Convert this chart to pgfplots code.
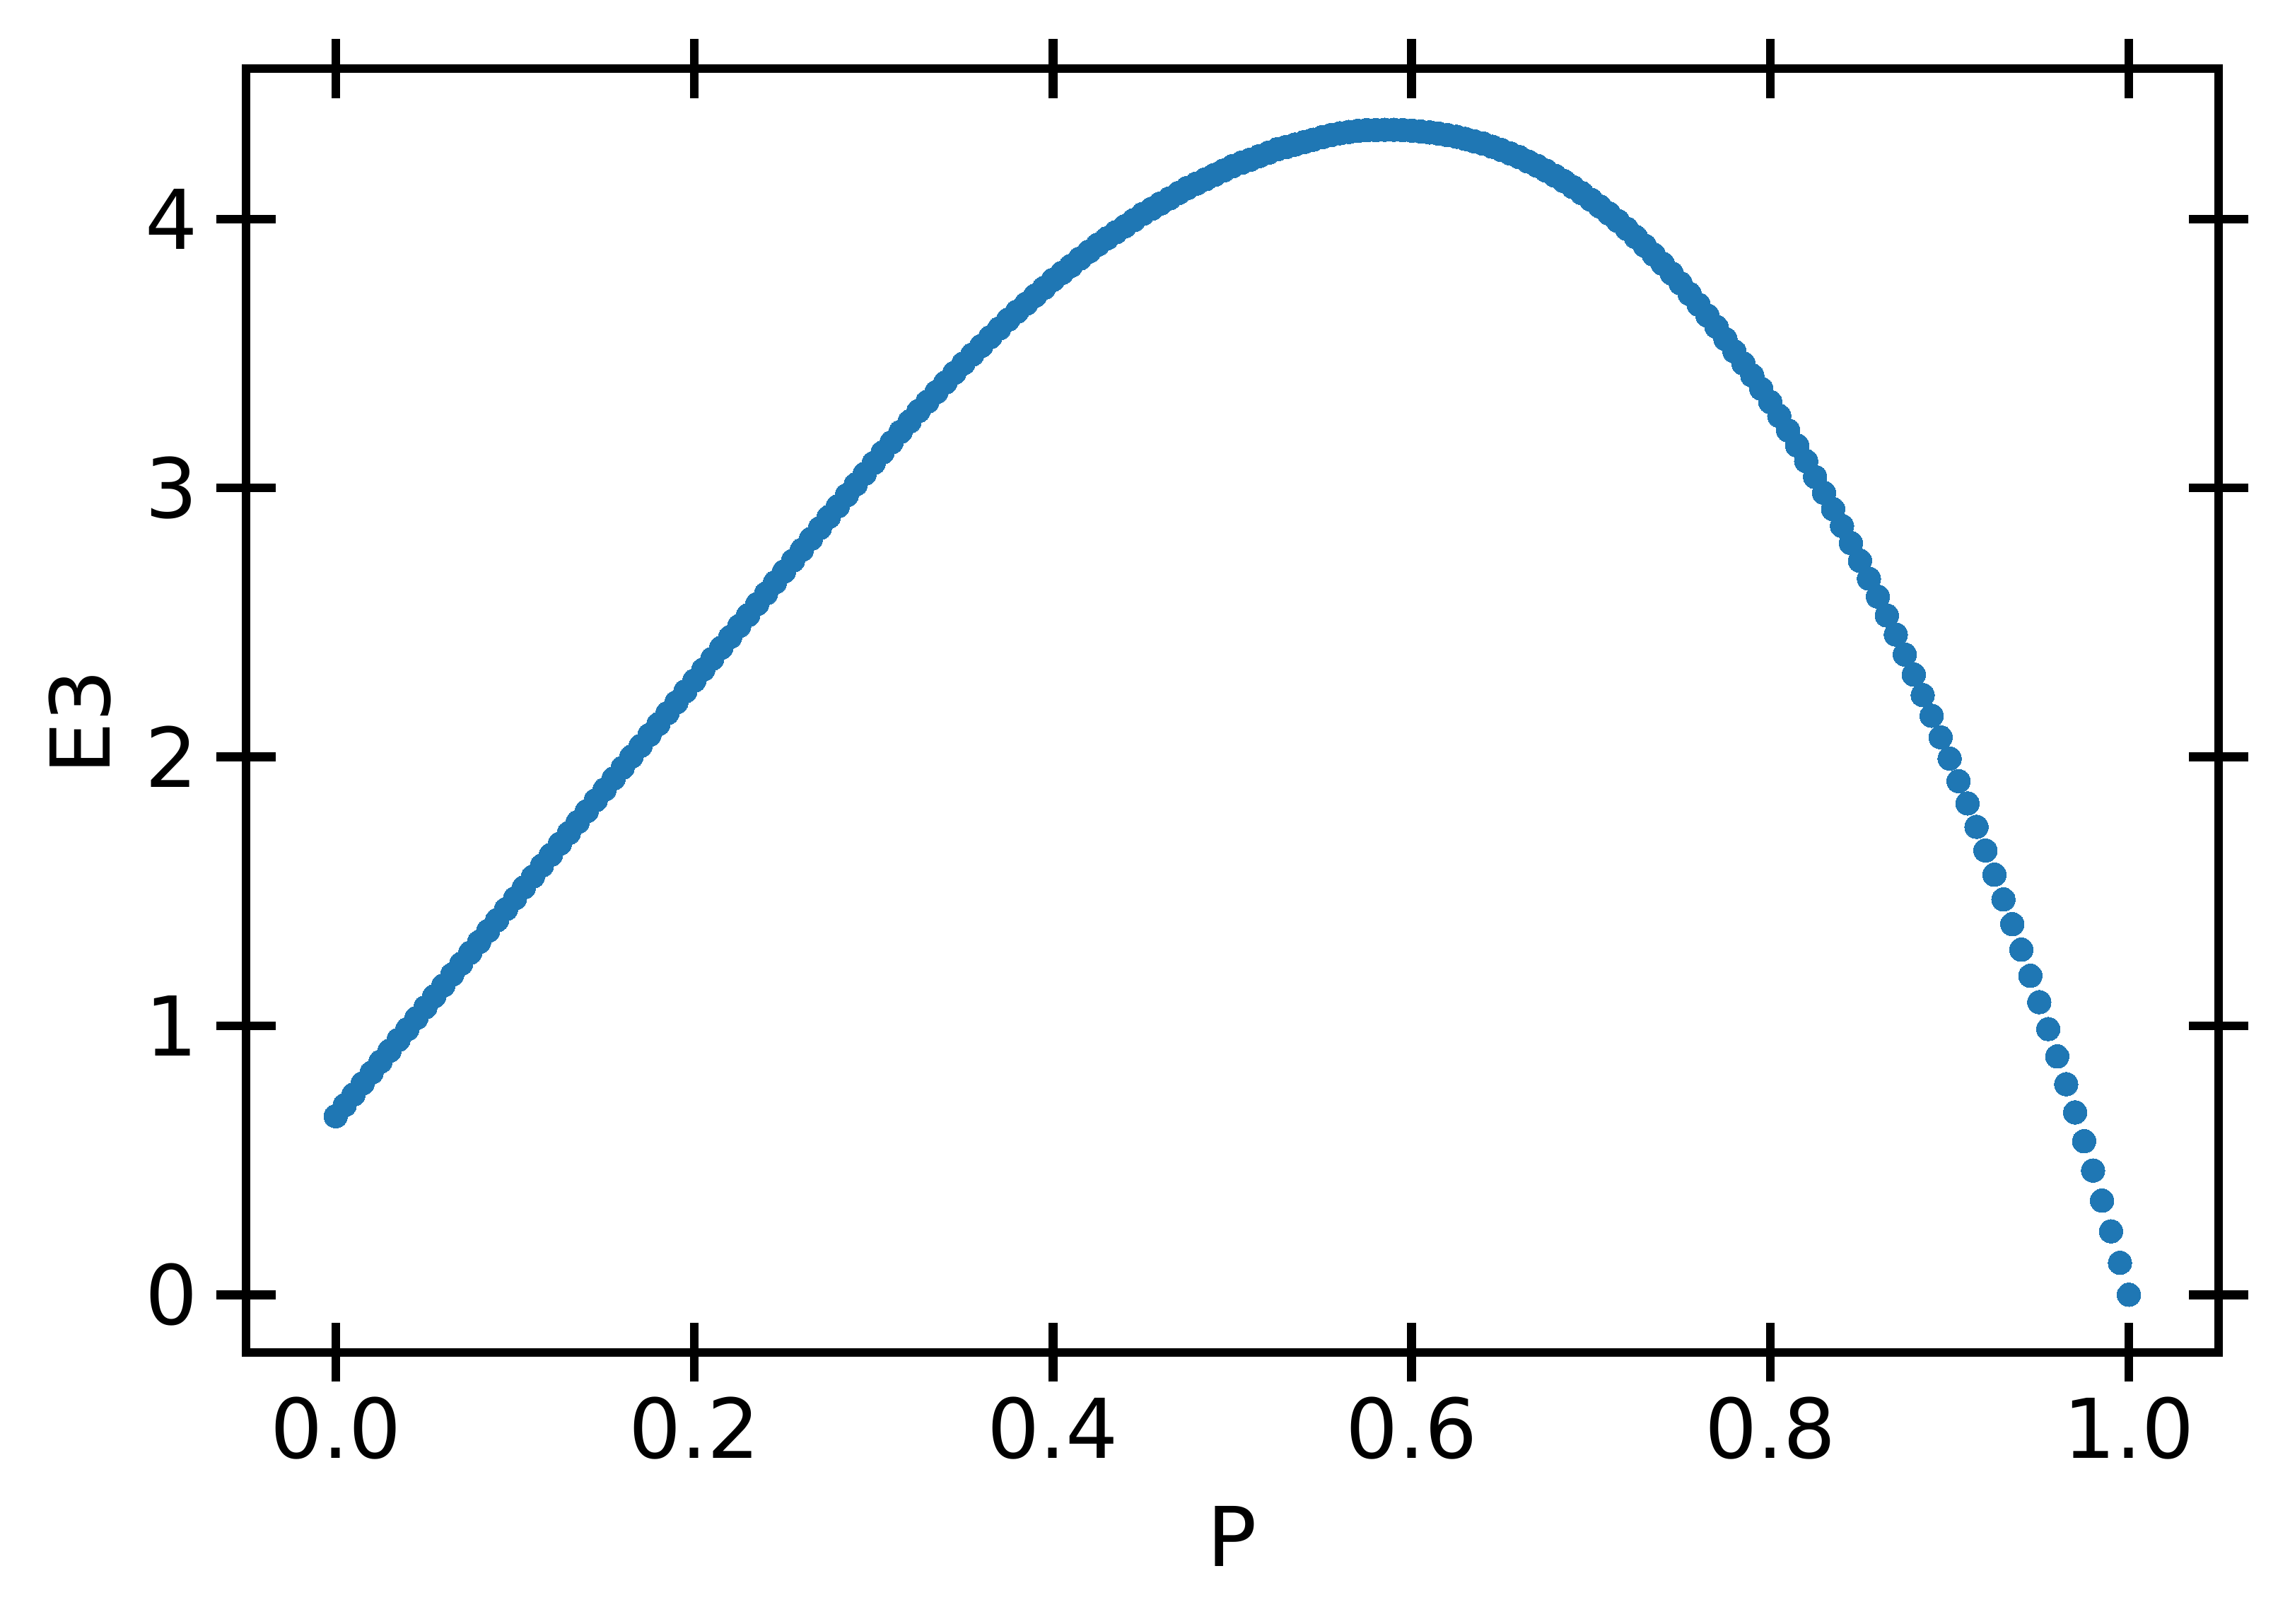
\documentclass[border=0pt]{standalone}
\usepackage{fontspec}
\setmainfont{DejaVu Sans}
\usepackage{pgfplots}
\pgfplotsset{compat=1.18}
\definecolor{tabblue}{HTML}{1F77B4}

% P, E3 (step 0.005)
\pgfplotstableread{
P     E
0.000 0.664
0.005 0.705
0.010 0.745
0.015 0.786
0.020 0.826
0.025 0.867
0.030 0.907
0.035 0.948
0.040 0.988
0.045 1.029
0.050 1.069
0.055 1.110
0.060 1.150
0.065 1.191
0.070 1.231
0.075 1.272
0.080 1.312
0.085 1.353
0.090 1.393
0.095 1.434
0.100 1.474
0.105 1.515
0.110 1.555
0.115 1.596
0.120 1.636
0.125 1.677
0.130 1.717
0.135 1.758
0.140 1.798
0.145 1.839
0.150 1.879
0.155 1.920
0.160 1.960
0.165 2.001
0.170 2.041
0.175 2.082
0.180 2.122
0.185 2.163
0.190 2.203
0.195 2.244
0.200 2.284
0.205 2.325
0.210 2.365
0.215 2.406
0.220 2.446
0.225 2.487
0.230 2.527
0.235 2.568
0.240 2.608
0.245 2.649
0.250 2.689
0.255 2.730
0.260 2.770
0.265 2.811
0.270 2.851
0.275 2.892
0.280 2.932
0.285 2.973
0.290 3.013
0.295 3.053
0.300 3.093
0.305 3.132
0.310 3.170
0.315 3.209
0.320 3.247
0.325 3.286
0.330 3.321
0.335 3.357
0.340 3.392
0.345 3.428
0.350 3.463
0.355 3.496
0.360 3.528
0.365 3.561
0.370 3.593
0.375 3.626
0.380 3.656
0.385 3.685
0.390 3.715
0.395 3.744
0.400 3.774
0.405 3.800
0.410 3.826
0.415 3.853
0.420 3.879
0.425 3.905
0.430 3.928
0.435 3.951
0.440 3.973
0.445 3.996
0.450 4.019
0.455 4.038
0.460 4.058
0.465 4.077
0.470 4.097
0.475 4.116
0.480 4.132
0.485 4.148
0.490 4.164
0.495 4.180
0.500 4.196
0.505 4.209
0.510 4.221
0.515 4.234
0.520 4.246
0.525 4.259
0.530 4.268
0.535 4.277
0.540 4.286
0.545 4.295
0.550 4.304
0.555 4.312
0.560 4.319
0.565 4.324
0.570 4.328
0.575 4.330
0.580 4.331
0.585 4.332
0.590 4.332
0.595 4.331
0.600 4.329
0.605 4.326
0.610 4.322
0.615 4.318
0.620 4.312
0.625 4.306
0.630 4.298
0.635 4.289
0.640 4.280
0.645 4.269
0.650 4.257
0.655 4.244
0.660 4.230
0.665 4.214
0.670 4.198
0.675 4.180
0.680 4.161
0.685 4.141
0.690 4.119
0.695 4.096
0.700 4.072
0.705 4.047
0.710 4.021
0.715 3.993
0.720 3.964
0.725 3.933
0.730 3.901
0.735 3.868
0.740 3.834
0.745 3.798
0.750 3.761
0.755 3.722
0.760 3.682
0.765 3.641
0.770 3.599
0.775 3.554
0.780 3.508
0.785 3.463
0.790 3.418
0.795 3.369
0.800 3.320
0.805 3.268
0.810 3.214
0.815 3.158
0.820 3.100
0.825 3.041
0.830 2.982
0.835 2.921
0.840 2.859
0.845 2.795
0.850 2.729
0.855 2.663
0.860 2.596
0.865 2.526
0.870 2.455
0.875 2.381
0.880 2.306
0.885 2.230
0.890 2.153
0.895 2.073
0.900 1.994
0.905 1.910
0.910 1.827
0.915 1.740
0.920 1.652
0.925 1.562
0.930 1.470
0.935 1.378
0.940 1.283
0.945 1.186
0.950 1.088
0.955 0.988
0.960 0.886
0.965 0.783
0.970 0.678
0.975 0.571
0.980 0.462
0.985 0.350
0.990 0.236
0.995 0.119
1.000 0.000
}\Edata

\begin{document}
\begin{tikzpicture}
\begin{axis}[
  scale only axis,
  width=334.8pt, height=217.9pt,
  xmin=-0.05, xmax=1.05,
  ymin=-0.2142, ymax=4.5596,
  xtick={0,0.2,0.4,0.6,0.8,1.0},
  xticklabels={0.0,0.2,0.4,0.6,0.8,1.0},
  ytick={0,1,2,3,4},
  yticklabels={0,1,2,3,4},
  minor tick num=0,
  tick align=center,
  xtick pos=both, ytick pos=both,
  xticklabel pos=lower, yticklabel pos=left,
  major tick length=10pt,
  tick style={line width=1.5pt, black},
  axis line style={line width=1.5pt, black},
  tick label style={font=\fontsize{14pt}{16pt}\selectfont, inner sep=0pt},
  xticklabel style={anchor=north, yshift=-2.4pt},
  yticklabel style={anchor=east, xshift=-3pt},
  label style={font=\fontsize{14pt}{16pt}\selectfont, inner sep=0pt},
  xlabel={P},
  ylabel={E3},
  xlabel style={at={(axis description cs:0.5,-0.1189)}, anchor=north},
  ylabel style={at={(axis description cs:-0.0677,0.491)}, anchor=south},
]
\addplot[only marks, color=tabblue, mark=*, mark size=2pt,
         mark options={solid, fill=tabblue, draw=tabblue, line width=0pt}]
  table[x=P, y=E] {\Edata};
\end{axis}
\pgfresetboundingbox
\path[use as bounding box]
  ([shift={(-41.76pt,-46.08pt)}]current axis.south west)
  rectangle ([shift={(12.12pt,11.64pt)}]current axis.north east);
\end{tikzpicture}
\end{document}
